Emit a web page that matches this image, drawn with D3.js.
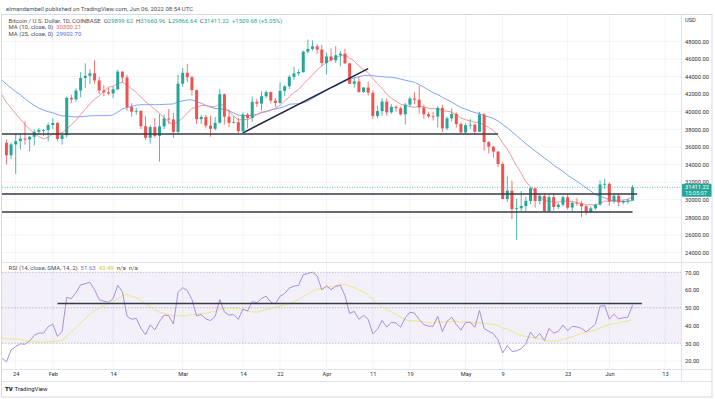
<!DOCTYPE html>
<html>
<head>
<meta charset="utf-8">
<title>BTCUSD 1D</title>
<script src="https://cdn.jsdelivr.net/npm/d3@7"></script>
<style>
  body { margin: 0; background: #ffffff; }
  #graph svg { display: block; font-family: Roboto, 'Noto Sans', sans-serif; }
</style>
</head>
<body>
<div id="graph"></div>
<script>
// Bitcoin / U.S. Dollar, daily candles from COINBASE, 22 Jan - 6 Jun 2022
const firstDay = '2022-01-22';

const opens = [
  36470, 35050, 36280, 36660, 36950, 36840, 37150, 37710, 37920, 37920,
  38490, 38720, 36900, 37330, 41570, 41400, 42400, 43840, 44080, 44360, 43550, 42400, 42200, 42070,
  42550, 44560, 43890, 40530, 40000, 40100, 38350, 37030, 38250, 37250, 38330, 39230, 39120, 37710,
  43190, 44420, 43920, 42450, 39150, 39400, 38420, 38060, 38740, 41980, 39440, 38730, 38810, 37790,
  39670, 39280, 41120, 40920, 41760, 42220, 41260, 41000, 42370, 42890, 43960, 44350, 44500, 46820,
  47130, 47430, 47060,
  45530, 46280, 45850, 46420, 46600, 45500, 43170, 43440, 42250, 42750, 42160, 39520, 40070, 41150,
  39930, 40550, 40400, 39710, 40800, 41500, 41370, 40480, 39710, 39470, 39450, 40430, 38110, 39240,
  39740, 38600,
  37640, 38470, 38520, 37720, 39690, 36550, 36010, 35470, 34060, 30080, 31020, 28940, 29030, 29280,
  29860, 31300, 29850, 30420, 28690, 30300, 29170, 29430, 30280, 29100, 29650, 29560, 29260, 28620,
  29020, 29450, 31730,
  31800, 29800, 30450, 29690, 29850, 29899.62
];
const highs = [
  36830, 36500, 37520, 37550, 38920, 37230, 38000, 38160, 38030, 38740,
  39270, 38850, 37400, 41730, 41930, 42650, 44500, 45500, 44800, 45850, 43940, 43000, 42740, 42880,
  44760, 44580, 44190, 40970, 40450, 40150, 39490, 38450, 39270, 39720, 39700, 40300, 39870, 44230,
  44950, 45400, 44100, 42520, 39630, 39650, 39540, 39400, 42600, 42050, 40240, 39480, 39300, 39930,
  39870, 41720, 41470, 42320, 42400, 42300, 41550, 43350, 42990, 44200, 45100, 44820, 46950, 48200,
  48100, 47700, 47600,
  46720, 47200, 47440, 46880, 47150, 45510, 43900, 43960, 42800, 43420, 42420, 40680, 41540, 41500,
  40870, 40700, 40600, 41000, 41700, 42200, 42980, 40800, 39950, 39950, 40630, 40790, 39460, 40380,
  39930, 38790,
  38680, 39150, 38640, 39980, 39840, 36660, 36130, 35510, 34250, 32660, 32170, 30100, 30990, 30330,
  31420, 31300, 30760, 30660, 30520, 30760, 29620, 30450, 30670, 29800, 30180, 29870, 29360, 29250,
  29530, 32200, 32390,
  31980, 30650, 30690, 29950, 30160, 31660.96
];
const lows = [
  34010, 34600, 32930, 35700, 36250, 35510, 36160, 37400, 37270, 36630,
  38020, 36610, 36250, 37050, 40980, 41120, 41640, 42700, 43150, 43200, 42000, 41760, 41870, 41570,
  42440, 43310, 40100, 39450, 39650, 38030, 36800, 36370, 37050, 34330, 38010, 38600, 37020, 37450,
  42850, 43350, 41840, 38600, 38600, 38100, 37160, 37870, 38650, 38550, 38230, 38660, 37580, 37580,
  38120, 38850, 40540, 40140, 41520, 40920, 40500, 40900, 41780, 42580, 43600, 44080, 44420, 46640,
  46950, 46560, 45220,
  44220, 45700, 45540, 45150, 45390, 43130, 42730, 42120, 42130, 41860, 39200, 39250, 39560, 39550,
  39770, 40010, 39550, 38550, 40570, 40850, 39770, 39200, 39300, 39000, 38200, 37700, 37880, 38890,
  38200, 37600,
  37400, 38050, 37500, 37690, 35570, 35260, 34780, 33710, 30040, 29730, 27800, 25400, 28720, 28630,
  29470, 29110, 29440, 28660, 28660, 28740, 28940, 29230, 28880, 28620, 29310, 28020, 28270, 28500,
  28840, 29300, 31220,
  29300, 29580, 29250, 29470, 29500, 29866.64
];
const closes = [
  35050, 36280, 36660, 36950, 36840, 37150, 37710, 37920, 37920, 38490,
  38720, 36900, 37330, 41570, 41400, 42400, 43840, 44080, 44360, 43550, 42400, 42200, 42070, 42550,
  44560, 43890, 40530, 40000, 40100, 38350, 37030, 38250, 37250, 38330, 39230, 39120, 37710, 43190,
  44420, 43920, 42450, 39150, 39400, 38420, 38060, 38740, 41980, 39440, 38730, 38810, 37790, 39670,
  39280, 41120, 40920, 41760, 42220, 41260, 41000, 42370, 42890, 43960, 44350, 44500, 46820, 47130,
  47430, 47060, 45530,
  46280, 45850, 46420, 46600, 45500, 43170, 43440, 42250, 42750, 42160, 39520, 40070, 41150, 39930,
  40550, 40400, 39710, 40800, 41500, 41370, 40480, 39710, 39470, 39450, 40430, 38110, 39240, 39740,
  38600, 37640,
  38470, 38520, 37720, 39690, 36550, 36010, 35470, 34060, 30080, 31020, 28940, 29030, 29280, 29860,
  31300, 29850, 30420, 28690, 30300, 29170, 29430, 30280, 29100, 29650, 29560, 29260, 28620, 29020,
  29450, 31730, 31800,
  29800, 30450, 29690, 29850, 29901.54, 31411.22
];

// closes from 1 Dec 2021 to 21 Jan 2022, only needed to warm up the MA and RSI lines
const earlierCloses = [
  57230, 56510, 53600, 49200, 49390, 50440, 50600, 50500, 47600, 47150, 49350, 50100, 46720, 48380,
  48870, 47640, 46200, 46850, 46680, 46900, 48940, 48630, 50820, 50850, 50430, 50800, 50640, 47540,
  46450, 47140, 46200,
  47740, 47300, 46450, 45830, 43430, 43080, 41550, 41680, 41860, 41830, 42740, 43920, 42590, 43100,
  43180, 43110, 42250, 42380, 41680, 40700, 36470
];

// indicator values printed in the legends
const maLegend = ['30300.21', '29902.70'];
const rsiLegend = ['51.63', '43.49'];

// time axis
const tickDates = ['2022-01-24', '2022-02-01', '2022-02-14', '2022-03-01', '2022-03-14', '2022-03-22',
  '2022-04-01', '2022-04-11', '2022-04-19', '2022-05-01', '2022-05-09', '2022-05-23', '2022-06-01', '2022-06-13'];
const tickLabels = ['24', 'Feb', '14', 'Mar', '14', '22', 'Apr', '11', '19', 'May', '9', '23', 'Jun', '13'];

// price and RSI axis ticks
const priceTicks = [24000, 26000, 28000, 30000, 32000, 34000, 36000, 38000, 40000, 42000, 44000, 46000, 48000];
const rsiTicks = [20, 30, 40, 50, 60, 70];
const rsiBands = [70, 50, 30];

// lines drawn by hand on the chart
const priceLevels = [
  { price: 37470, from: '2022-01-19', to: '2022-05-08' },
  { price: 30650, from: '2022-01-19', to: '2022-06-07' },
  { price: 28600, from: '2022-01-19', to: '2022-06-06' }
];
const trendLine = [
  { date: '2022-03-14', price: 37600 },
  { date: '2022-04-10', price: 44900 }
];
const rsiLevel = { value: 52.4, from: '2022-02-02', to: '2022-06-08' };

drawChart();

// Draw chart
function drawChart() {
  const width = 715;
  const height = 399;

  // panel edges
  const left = 2, right = 681, frameRight = 712;
  const mainTop = 14, mainBottom = 262;
  const rsiTop = 263, rsiBottom = 369, axisBottom = 381;

  const green = '#26a69a';
  const red = '#ef5350';
  const gridColor = '#eef1f6';
  const textColor = '#2a2e39';
  const gray = '#4a4e59';
  const labelSize = 5.7;
  const legendSize = 6;

  const parse = d3.utcParse('%Y-%m-%d');
  const n0 = earlierCloses.length;
  const allCloses = earlierCloses.concat(closes);
  const dayAt = k => d3.utcDay.offset(parse(firstDay), k - n0);

  const x = d3.scaleUtc()
      .domain([parse('2022-01-24'), parse('2022-06-13')])
      .range([15.7, 665]);
  const y = d3.scaleLinear().domain([24000, 48000]).range([252.5, 41.3]);
  const yRsi = d3.scaleLinear().domain([20, 70]).range([361, 272.3]);

  // indicators
  const ma10 = sma(allCloses, 10);
  const ma25 = sma(allCloses, 25);
  const rsi = rsiSeries(allCloses, 14);
  const rsiMa = sma(rsi, 14);
  const shown = d3.range(n0 - 1, allCloses.length);

  const svg = d3.select('#graph')
      .append('svg')
      .attr('width', width)
      .attr('height', height);

  svg.append('rect').attr('width', width).attr('height', height).attr('fill', '#fff');

  const defs = svg.append('defs');
  defs.append('clipPath').attr('id', 'clip-main')
    .append('rect').attr('x', left).attr('y', mainTop).attr('width', right - left).attr('height', mainBottom - mainTop);
  defs.append('clipPath').attr('id', 'clip-rsi')
    .append('rect').attr('x', left).attr('y', rsiTop).attr('width', right - left).attr('height', rsiBottom - rsiTop);

  // grid lines
  const tickValues = tickDates.map(parse);
  svg.append('g')
      .selectAll('line')
      .data(tickValues)
      .join('line')
      .attr('x1', d => x(d)).attr('x2', d => x(d))
      .attr('y1', mainTop).attr('y2', rsiBottom)
      .attr('stroke', gridColor).attr('stroke-width', 0.8);
  svg.append('g')
      .selectAll('line')
      .data(priceTicks)
      .join('line')
      .attr('x1', left).attr('x2', right)
      .attr('y1', d => y(d)).attr('y2', d => y(d))
      .attr('stroke', gridColor).attr('stroke-width', 0.8);

  // RSI background band and grid
  svg.append('rect')
      .attr('x', left).attr('width', right - left)
      .attr('y', yRsi(70)).attr('height', yRsi(30) - yRsi(70))
      .attr('fill', 'rgba(126, 87, 194, 0.09)');
  svg.append('g')
      .selectAll('line')
      .data(rsiTicks.filter(d => rsiBands.indexOf(d) < 0))
      .join('line')
      .attr('x1', left).attr('x2', right)
      .attr('y1', d => yRsi(d)).attr('y2', d => yRsi(d))
      .attr('stroke', gridColor).attr('stroke-width', 0.8);
  svg.append('g')
      .selectAll('line')
      .data(rsiBands)
      .join('line')
      .attr('x1', left).attr('x2', right)
      .attr('y1', d => yRsi(d)).attr('y2', d => yRsi(d))
      .attr('stroke', '#9a9ca6').attr('stroke-width', 0.6)
      .attr('stroke-dasharray', '1.5,1.5');

  // frame
  const frame = svg.append('g').attr('stroke', '#e0e3eb').attr('fill', 'none');
  frame.append('rect').attr('x', 1.5).attr('y', 14.5).attr('width', frameRight - 1.5).attr('height', 382.5)
      .attr('stroke', '#d3dae6');
  frame.append('line').attr('x1', right + 0.5).attr('x2', right + 0.5).attr('y1', mainTop).attr('y2', axisBottom);
  frame.append('line').attr('x1', left).attr('x2', frameRight).attr('y1', mainBottom + 0.5).attr('y2', mainBottom + 0.5);
  frame.append('line').attr('x1', left).attr('x2', frameRight).attr('y1', rsiBottom + 0.5).attr('y2', rsiBottom + 0.5);
  frame.append('line').attr('x1', left).attr('x2', frameRight).attr('y1', axisBottom + 0.5).attr('y2', axisBottom + 0.5);

  // price chart
  const main = svg.append('g').attr('clip-path', 'url(#clip-main)');

  const maLine = values => d3.line()
      .defined(k => values[k] != null)
      .x(k => x(dayAt(k)))
      .y(k => y(values[k]));

  main.append('path')
      .attr('d', maLine(ma25)(shown))
      .attr('fill', 'none').attr('stroke', '#6f9cf0').attr('stroke-width', 0.9);
  main.append('path')
      .attr('d', maLine(ma10)(shown))
      .attr('fill', 'none').attr('stroke', '#f38b8f').attr('stroke-width', 0.9);

  const candles = main.append('g')
      .selectAll('g')
      .data(closes.map((c, i) => ({ date: dayAt(n0 + i), o: opens[i], h: highs[i], l: lows[i], c: c })))
      .join('g')
      .attr('fill', d => d.c >= d.o ? green : red)
      .attr('stroke', d => d.c >= d.o ? green : red);
  candles.append('line')
      .attr('x1', d => x(d.date)).attr('x2', d => x(d.date))
      .attr('y1', d => y(d.h)).attr('y2', d => y(d.l))
      .attr('stroke-width', 0.8);
  candles.append('rect')
      .attr('x', d => x(d.date) - 1.5)
      .attr('width', 3)
      .attr('y', d => y(Math.max(d.o, d.c)))
      .attr('height', d => Math.max(0.8, Math.abs(y(d.o) - y(d.c))))
      .attr('stroke', 'none');

  // hand drawn levels and trend line
  main.append('g')
      .selectAll('line')
      .data(priceLevels)
      .join('line')
      .attr('x1', d => x(parse(d.from))).attr('x2', d => x(parse(d.to)))
      .attr('y1', d => y(d.price)).attr('y2', d => y(d.price))
      .attr('stroke', '#363a45').attr('stroke-width', 1.6);
  main.append('line')
      .attr('x1', x(parse(trendLine[0].date))).attr('y1', y(trendLine[0].price))
      .attr('x2', x(parse(trendLine[1].date))).attr('y2', y(trendLine[1].price))
      .attr('stroke', '#1f2440').attr('stroke-width', 1.5);

  // last price line
  const lastClose = closes[closes.length - 1];
  main.append('line')
      .attr('x1', left).attr('x2', right)
      .attr('y1', y(lastClose)).attr('y2', y(lastClose))
      .attr('stroke', green).attr('stroke-width', 0.7)
      .attr('stroke-dasharray', '1,1.5');

  // RSI panel
  const rsiPanel = svg.append('g').attr('clip-path', 'url(#clip-rsi)');
  const rsiLine = values => d3.line()
      .defined(k => values[k] != null)
      .x(k => x(dayAt(k)))
      .y(k => yRsi(values[k]));
  rsiPanel.append('path')
      .attr('d', rsiLine(rsiMa)(shown))
      .attr('fill', 'none').attr('stroke', '#e6e680').attr('stroke-width', 0.9);
  rsiPanel.append('path')
      .attr('d', rsiLine(rsi)(shown))
      .attr('fill', 'none').attr('stroke', '#a183d8').attr('stroke-width', 0.9);
  rsiPanel.append('line')
      .attr('x1', x(parse(rsiLevel.from))).attr('x2', x(parse(rsiLevel.to)))
      .attr('y1', yRsi(rsiLevel.value)).attr('y2', yRsi(rsiLevel.value))
      .attr('stroke', '#363a45').attr('stroke-width', 1.6);

  // axes
  const styleAxis = g => {
    g.select('.domain').remove();
    g.attr('font-family', null).attr('font-size', null);
    g.selectAll('text').attr('fill', textColor).attr('font-size', labelSize);
  };
  svg.append('g')
      .attr('transform', `translate(${right},0)`)
      .call(d3.axisRight(y).tickValues(priceTicks).tickFormat(d3.format('.2f')).tickSize(0).tickPadding(4))
      .call(styleAxis);
  svg.append('g')
      .attr('transform', `translate(${right},0)`)
      .call(d3.axisRight(yRsi).tickValues(rsiTicks).tickFormat(d3.format('.2f')).tickSize(0).tickPadding(4))
      .call(styleAxis);
  svg.append('g')
      .attr('transform', `translate(0,${rsiBottom + 2.5})`)
      .call(d3.axisBottom(x).tickValues(tickValues).tickFormat((d, i) => tickLabels[i]).tickSize(0).tickPadding(0))
      .call(styleAxis);
  svg.append('text')
      .attr('x', right + 4).attr('y', 20).attr('dy', '0.35em')
      .attr('font-size', labelSize).attr('fill', textColor)
      .text('USD');

  // last price tag
  const tag = svg.append('g');
  tag.append('rect')
      .attr('x', right + 1).attr('y', y(lastClose) - 3.5)
      .attr('width', frameRight - right - 1.5).attr('height', 13)
      .attr('rx', 1).attr('fill', green);
  tag.append('text')
      .attr('x', right + 4).attr('y', y(lastClose)).attr('dy', '0.35em')
      .attr('font-size', labelSize).attr('fill', '#fff')
      .text(d3.format('.2f')(lastClose));
  tag.append('text')
      .attr('x', right + 4).attr('y', y(lastClose) + 6).attr('dy', '0.35em')
      .attr('font-size', labelSize).attr('fill', '#e0f5f2')
      .text('15:05:07');

  // header and legends
  svg.append('text')
      .attr('x', 6).attr('y', 8.5).attr('dy', '0.35em')
      .attr('font-size', legendSize).attr('fill', gray)
      .text('elmandambell published on TradingView.com, Jun 06, 2022 08:54 UTC');

  const legend = (yPos, parts) => {
    const t = svg.append('text')
        .attr('x', 8.5).attr('y', yPos).attr('dy', '0.35em')
        .attr('font-size', legendSize).attr('xml:space', 'preserve');
    parts.forEach(p => t.append('tspan').attr('fill', p[1]).text(p[0]));
  };
  const last = closes.length - 1;
  const change = lastClose - closes[last - 1];
  legend(20.5, [
    ['Bitcoin / U.S. Dollar, 1D, COINBASE  ', gray],
    ['O', gray], [d3.format('.2f')(opens[last]) + '  ', green],
    ['H', gray], [d3.format('.2f')(highs[last]) + '  ', green],
    ['L', gray], [d3.format('.2f')(lows[last]) + '  ', green],
    ['C', gray], [d3.format('.2f')(lastClose) + '  ', green],
    [d3.format('+.2f')(change) + ' (' + d3.format('+.2f')(change / closes[last - 1] * 100) + '%)', green]
  ]);
  legend(27, [['MA (10, close, 0)  ', gray], [maLegend[0], '#f05a60']]);
  legend(33.5, [['MA (25, close, 0)  ', gray], [maLegend[1], '#3f73e6']]);
  legend(267.5, [
    ['RSI (14, close, SMA, 14, 2)  ', gray],
    [rsiLegend[0] + '  ', '#8e6ad0'],
    [rsiLegend[1] + '  ', '#c9c94a'],
    ['n/a  n/a', gray]
  ]);

  // TradingView mark
  svg.append('text')
      .attr('x', 5).attr('y', 389).attr('dy', '0.35em')
      .attr('font-size', 6).attr('font-weight', 900).attr('fill', '#131722')
      .text('TV');
  svg.append('text')
      .attr('x', 14.5).attr('y', 389).attr('dy', '0.35em')
      .attr('font-size', legendSize).attr('fill', '#131722')
      .text('TradingView');
}

// Simple moving average, null until the window is full
function sma(values, period) {
  return values.map((v, i) => {
    if (i < period - 1) return null;
    const win = values.slice(i - period + 1, i + 1);
    if (win.some(w => w == null)) return null;
    return d3.mean(win);
  });
}

// Wilder's RSI
function rsiSeries(values, period) {
  const out = [null];
  let gain = 0;
  let loss = 0;
  for (let i = 1; i < values.length; i++) {
    const diff = values[i] - values[i - 1];
    const up = Math.max(diff, 0);
    const down = Math.max(-diff, 0);
    if (i <= period) {
      gain += up / period;
      loss += down / period;
    } else {
      gain = (gain * (period - 1) + up) / period;
      loss = (loss * (period - 1) + down) / period;
    }
    out[i] = i >= period ? 100 - 100 / (1 + gain / loss) : null;
  }
  return out;
}
</script>
</body>
</html>
